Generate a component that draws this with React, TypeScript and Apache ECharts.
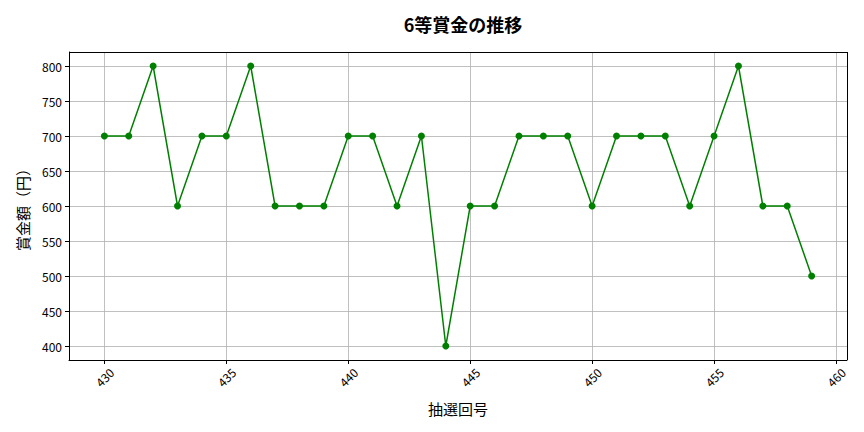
import { useEffect, useRef } from 'react';
import * as echarts from 'echarts';

const draws = [430, 431, 432, 433, 434, 435, 436, 437, 438, 439, 440, 441, 442, 443, 444, 445, 446, 447, 448, 449, 450, 451, 452, 453, 454, 455, 456, 457, 458, 459];
const prizes = [700, 700, 800, 600, 700, 700, 800, 600, 600, 600, 700, 700, 600, 700, 400, 600, 600, 700, 700, 700, 600, 700, 700, 700, 600, 700, 800, 600, 600, 500];
const xTicks = [430, 435, 440, 445, 450, 455, 460];
const yTicks = [400, 450, 500, 550, 600, 650, 700, 750, 800];

const FONT = '"Noto Sans CJK JP", "Noto Sans", sans-serif';

function App() {
  const chartRef = useRef<HTMLDivElement>(null);

  useEffect(() => {
    if (!chartRef.current) return;
    const chart = echarts.init(chartRef.current, null, { renderer: 'svg' });

    chart.setOption({
      animation: false,
      textStyle: { fontFamily: FONT },
      title: {
        text: '6等賞金の推移',
        left: 450,
        top: 2,
        textAlign: 'center',
        textStyle: { fontSize: 18, fontWeight: 'bold', color: '#000', fontFamily: FONT },
      },
      grid: { left: 61, right: 9, top: 44, bottom: 64, outerBoundsMode: 'none', containLabel: false },
      xAxis: {
        type: 'value',
        min: 428.55,
        max: 460.45,
        name: '抽選回号',
        nameLocation: 'middle',
        nameGap: 41,
        nameTextStyle: { fontSize: 15, color: '#000', fontFamily: FONT },
        axisLine: { show: true, lineStyle: { color: '#000', width: 1 } },
        axisTick: { show: true, length: 4, lineStyle: { color: '#000' }, customValues: xTicks },
        axisLabel: {
          customValues: xTicks,
          rotate: 45,
          align: 'center',
          verticalAlign: 'middle',
          margin: 17,
          fontSize: 12,
          color: '#000',
        },
        splitLine: { show: true, lineStyle: { color: '#b0b0b0', width: 0.8 } },
      },
      yAxis: {
        type: 'value',
        min: 380,
        max: 820,
        name: '賞金額（円）',
        nameLocation: 'middle',
        nameGap: 39,
        nameTextStyle: { fontSize: 15, color: '#000', fontFamily: FONT },
        axisLine: { show: true, lineStyle: { color: '#000', width: 1 } },
        axisTick: { show: true, length: 4, lineStyle: { color: '#000' }, customValues: yTicks },
        axisLabel: { customValues: yTicks, fontSize: 12, color: '#000', margin: 7 },
        splitLine: { show: true, lineStyle: { color: '#b0b0b0', width: 0.8 } },
      },
      series: [
        {
          type: 'line',
          data: draws.map((d, i) => [d, prizes[i]]),
          symbol: 'circle',
          symbolSize: 7,
          itemStyle: { color: '#008000' },
          lineStyle: { color: '#008000', width: 1.5 },
        },
        {
          // top and right frame lines
          type: 'line',
          data: [],
          markLine: {
            silent: true,
            symbol: 'none',
            label: { show: false },
            lineStyle: { color: '#000', width: 1, type: 'solid' },
            data: [{ yAxis: 820 }, { xAxis: 460.45 }],
          },
        },
      ],
    });

    return () => chart.dispose();
  }, []);

  return <div ref={chartRef} style={{ width: '848px', height: '416px' }} />;
}

export default App;
